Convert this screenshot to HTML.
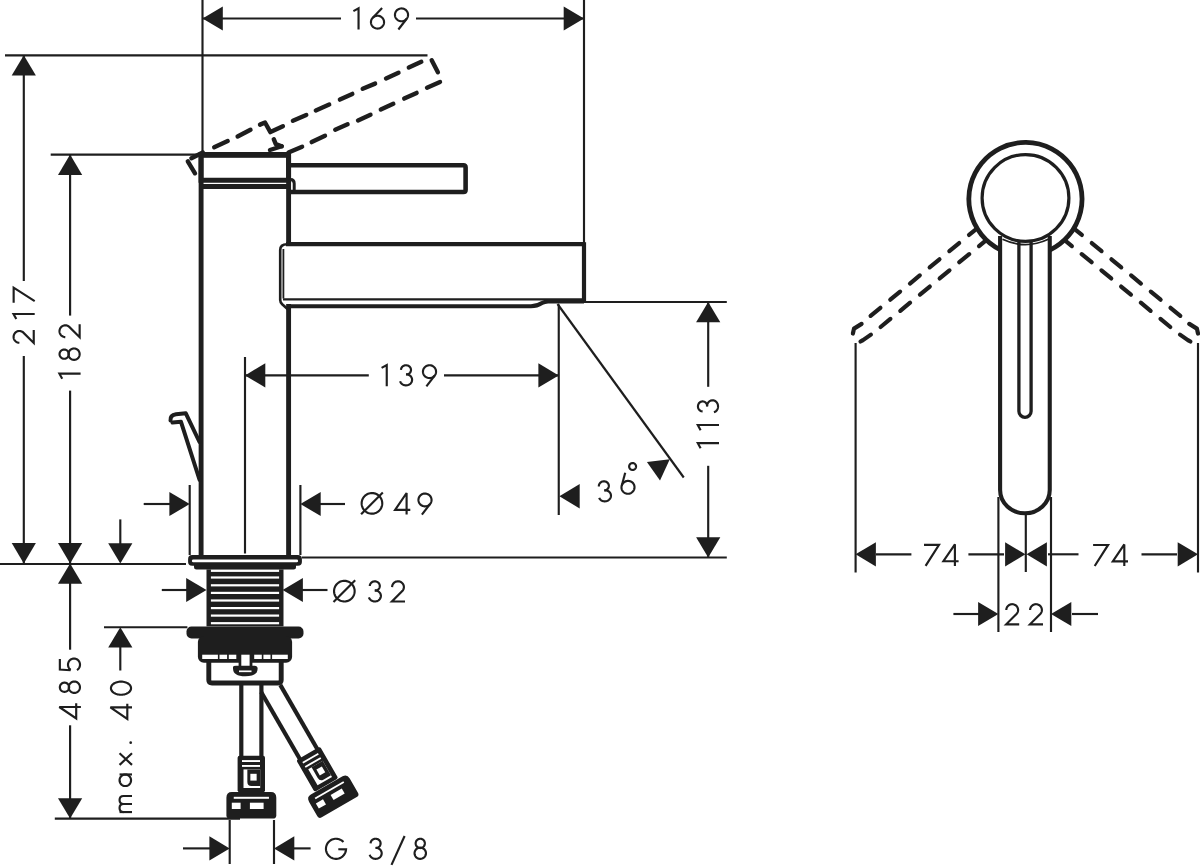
<!DOCTYPE html>
<html><head><meta charset="utf-8"><style>
html,body{margin:0;padding:0;background:#fff;overflow:hidden;}
svg{display:block;}
text{font-family:"Liberation Sans",sans-serif;fill:#1e1e1e;stroke:none;}
</style></head><body>
<svg width="1200" height="868" viewBox="0 0 1200 868" stroke="#1e1e1e" fill="none">
<line x1="202.5" y1="0" x2="202.5" y2="153" stroke-width="2.15" stroke-linecap="butt"/>
<line x1="584" y1="0" x2="584" y2="244" stroke-width="2.15" stroke-linecap="butt"/>
<line x1="202.5" y1="18.5" x2="341" y2="18.5" stroke-width="2.15" stroke-linecap="butt"/>
<line x1="416" y1="18.5" x2="584" y2="18.5" stroke-width="2.15" stroke-linecap="butt"/>
<polygon points="202.5,18.5 222.8,6.4 222.8,30.6" stroke="none" fill="#1e1e1e"/>
<polygon points="584.0,18.5 563.7,30.6 563.7,6.4" stroke="none" fill="#1e1e1e"/>
<line x1="5" y1="55.3" x2="427.5" y2="55.3" stroke-width="2.15" stroke-linecap="butt"/>
<line x1="23.8" y1="55.3" x2="23.8" y2="281" stroke-width="2.15" stroke-linecap="butt"/>
<line x1="23.8" y1="356" x2="23.8" y2="563.4" stroke-width="2.15" stroke-linecap="butt"/>
<polygon points="23.8,55.3 35.9,75.6 11.7,75.6" stroke="none" fill="#1e1e1e"/>
<polygon points="23.8,563.4 11.7,543.1 35.9,543.1" stroke="none" fill="#1e1e1e"/>
<line x1="50.7" y1="154.6" x2="201" y2="154.6" stroke-width="2.15" stroke-linecap="butt"/>
<line x1="70.1" y1="154.6" x2="70.1" y2="315.6" stroke-width="2.15" stroke-linecap="butt"/>
<line x1="70.1" y1="390.6" x2="70.1" y2="563.4" stroke-width="2.15" stroke-linecap="butt"/>
<polygon points="70.1,154.6 82.2,174.9 58.0,174.9" stroke="none" fill="#1e1e1e"/>
<polygon points="70.1,563.4 58.0,543.1 82.2,543.1" stroke="none" fill="#1e1e1e"/>
<line x1="0" y1="564.0" x2="186" y2="564.0" stroke-width="2.15" stroke-linecap="butt"/>
<line x1="70.1" y1="563.4" x2="70.1" y2="649.7" stroke-width="2.15" stroke-linecap="butt"/>
<line x1="70.1" y1="725.3" x2="70.1" y2="819" stroke-width="2.15" stroke-linecap="butt"/>
<polygon points="70.1,563.4 82.2,583.7 58.0,583.7" stroke="none" fill="#1e1e1e"/>
<polygon points="70.1,818.6 58.0,798.3 82.2,798.3" stroke="none" fill="#1e1e1e"/>
<line x1="54.8" y1="818.6" x2="240" y2="818.6" stroke-width="2.15" stroke-linecap="butt"/>
<line x1="120.3" y1="519.4" x2="120.3" y2="550" stroke-width="2.15" stroke-linecap="butt"/>
<polygon points="120.3,563.6 108.2,543.3 132.4,543.3" stroke="none" fill="#1e1e1e"/>
<line x1="104" y1="627.2" x2="187.4" y2="627.2" stroke-width="2.15" stroke-linecap="butt"/>
<polygon points="120.3,627.2 132.4,647.5 108.2,647.5" stroke="none" fill="#1e1e1e"/>
<line x1="120.3" y1="640" x2="120.3" y2="670.5" stroke-width="2.15" stroke-linecap="butt"/>
<line x1="245" y1="357" x2="245" y2="553.5" stroke-width="2.15" stroke-linecap="butt"/>
<line x1="245" y1="375.4" x2="368.8" y2="375.4" stroke-width="2.15" stroke-linecap="butt"/>
<line x1="444" y1="375.4" x2="558.7" y2="375.4" stroke-width="2.15" stroke-linecap="butt"/>
<polygon points="245.0,375.4 265.3,363.3 265.3,387.5" stroke="none" fill="#1e1e1e"/>
<polygon points="558.7,375.4 538.4,387.5 538.4,363.3" stroke="none" fill="#1e1e1e"/>
<line x1="558.75" y1="304.5" x2="558.75" y2="515" stroke-width="2.15" stroke-linecap="butt"/>
<line x1="557.5" y1="304" x2="683.75" y2="477.5" stroke-width="2.15" stroke-linecap="butt"/>
<polygon points="559.4,496.2 579.7,484.1 579.7,508.4" stroke="none" fill="#1e1e1e"/>
<polygon points="646.9,461.9 669.8,459.2 660,480.6" stroke="none" fill="#1e1e1e"/>
<line x1="584" y1="302.0" x2="726.8" y2="302.0" stroke-width="2.15" stroke-linecap="butt"/>
<line x1="301.8" y1="557.5" x2="726.8" y2="557.5" stroke-width="2.15" stroke-linecap="butt"/>
<line x1="708.2" y1="303" x2="708.2" y2="386.8" stroke-width="2.15" stroke-linecap="butt"/>
<line x1="708.2" y1="465.8" x2="708.2" y2="557.7" stroke-width="2.15" stroke-linecap="butt"/>
<polygon points="708.2,302.0 720.3,322.3 696.1,322.3" stroke="none" fill="#1e1e1e"/>
<polygon points="708.2,557.5 696.1,537.2 720.3,537.2" stroke="none" fill="#1e1e1e"/>
<line x1="189.7" y1="485" x2="189.7" y2="555" stroke-width="2.15" stroke-linecap="butt"/>
<line x1="300.4" y1="485" x2="300.4" y2="555" stroke-width="2.15" stroke-linecap="butt"/>
<line x1="143.7" y1="504" x2="175" y2="504" stroke-width="2.15" stroke-linecap="butt"/>
<polygon points="189.7,504.0 169.4,516.1 169.4,491.9" stroke="none" fill="#1e1e1e"/>
<line x1="315" y1="504" x2="345" y2="504" stroke-width="2.15" stroke-linecap="butt"/>
<polygon points="300.4,504.0 320.7,491.9 320.7,516.1" stroke="none" fill="#1e1e1e"/>
<line x1="161.8" y1="590" x2="190" y2="590" stroke-width="2.15" stroke-linecap="butt"/>
<polygon points="206.5,590.0 186.2,602.1 186.2,577.9" stroke="none" fill="#1e1e1e"/>
<line x1="300" y1="590" x2="327.5" y2="590" stroke-width="2.15" stroke-linecap="butt"/>
<polygon points="282.6,590.0 302.9,577.9 302.9,602.1" stroke="none" fill="#1e1e1e"/>
<line x1="229.7" y1="820" x2="229.7" y2="864" stroke-width="2.15" stroke-linecap="butt"/>
<line x1="274" y1="820" x2="274" y2="864" stroke-width="2.15" stroke-linecap="butt"/>
<line x1="183" y1="848.4" x2="212" y2="848.4" stroke-width="2.15" stroke-linecap="butt"/>
<polygon points="229.7,848.4 209.4,860.5 209.4,836.3" stroke="none" fill="#1e1e1e"/>
<line x1="290" y1="848.4" x2="310.6" y2="848.4" stroke-width="2.15" stroke-linecap="butt"/>
<polygon points="274.0,848.4 294.3,836.3 294.3,860.5" stroke="none" fill="#1e1e1e"/>
<g transform="translate(352.8 29.5)" stroke-width="2.15" stroke-miterlimit="3" fill="none"><path d="M0.60,-18.40 L5.75,-21.20 L5.75,0.00"/></g>
<g transform="translate(370 29.5)" stroke-width="2.15" stroke-miterlimit="3" fill="none"><path d="M14.05,-7.35 L14.02,-6.69 L13.91,-6.04 L13.74,-5.40 L13.50,-4.79 L13.20,-4.20 L12.84,-3.64 L12.42,-3.13 L11.95,-2.65 L11.43,-2.23 L10.87,-1.86 L10.28,-1.55 L9.65,-1.31 L9.00,-1.12 L8.34,-1.00 L7.67,-0.95 L6.99,-0.97 L6.33,-1.05 L5.67,-1.21 L5.03,-1.42 L4.42,-1.70 L3.84,-2.04 L3.30,-2.44 L2.81,-2.88 L2.36,-3.38 L1.97,-3.92 L1.64,-4.49 L1.37,-5.09 L1.17,-5.72 L1.03,-6.37 L0.96,-7.02 L0.96,-7.68 L1.03,-8.33 L1.17,-8.98 L1.37,-9.61 L1.64,-10.21 L1.97,-10.78 L2.36,-11.32 L2.81,-11.82 L3.30,-12.26 L3.84,-12.66 L4.42,-13.00 L5.03,-13.28 L5.67,-13.49 L6.33,-13.65 L6.99,-13.73 L7.67,-13.75 L8.34,-13.70 L9.00,-13.58 L9.65,-13.39 L10.28,-13.15 L10.87,-12.84 L11.43,-12.47 L11.95,-12.05 L12.42,-11.57 L12.84,-11.06 L13.20,-10.50 L13.50,-9.91 L13.74,-9.30 L13.91,-8.66 L14.02,-8.01 L14.05,-7.35 Z"/><path d="M12.10,-21.40 L2.82,-11.83"/></g>
<g transform="translate(394 29.5)" stroke-width="2.15" stroke-miterlimit="3" fill="none"><path d="M14.05,-14.65 L14.02,-13.99 L13.91,-13.34 L13.74,-12.70 L13.50,-12.09 L13.20,-11.50 L12.84,-10.94 L12.42,-10.43 L11.95,-9.95 L11.43,-9.53 L10.87,-9.16 L10.28,-8.85 L9.65,-8.61 L9.00,-8.42 L8.34,-8.30 L7.67,-8.25 L6.99,-8.27 L6.33,-8.35 L5.67,-8.51 L5.03,-8.72 L4.42,-9.00 L3.84,-9.34 L3.30,-9.74 L2.81,-10.18 L2.36,-10.68 L1.97,-11.22 L1.64,-11.79 L1.37,-12.39 L1.17,-13.02 L1.03,-13.67 L0.96,-14.32 L0.96,-14.98 L1.03,-15.63 L1.17,-16.28 L1.37,-16.91 L1.64,-17.51 L1.97,-18.08 L2.36,-18.62 L2.81,-19.12 L3.30,-19.56 L3.84,-19.96 L4.42,-20.30 L5.03,-20.58 L5.67,-20.79 L6.33,-20.95 L6.99,-21.03 L7.67,-21.05 L8.34,-21.00 L9.00,-20.88 L9.65,-20.69 L10.28,-20.45 L10.87,-20.14 L11.43,-19.77 L11.95,-19.35 L12.42,-18.87 L12.84,-18.36 L13.20,-17.80 L13.50,-17.21 L13.74,-16.60 L13.91,-15.96 L14.02,-15.31 L14.05,-14.65 Z"/><path d="M12.67,-10.72 L4.40,0.00"/></g>
<g transform="translate(381 386.3)" stroke-width="2.15" stroke-miterlimit="3" fill="none"><path d="M0.60,-18.40 L5.75,-21.20 L5.75,0.00"/></g>
<g transform="translate(399 386.3)" stroke-width="2.15" stroke-miterlimit="3" fill="none"><path d="M2.00,-16.40 L2.03,-16.88 L2.10,-17.35 L2.23,-17.81 L2.41,-18.25 L2.64,-18.68 L2.92,-19.08 L3.23,-19.46 L3.59,-19.80 L3.98,-20.11 L4.40,-20.37 L4.85,-20.60 L5.33,-20.78 L5.82,-20.92 L6.32,-21.01 L6.83,-21.05 L7.34,-21.04 L7.85,-20.98 L8.35,-20.88 L8.83,-20.73 L9.30,-20.53 L9.74,-20.29 L10.16,-20.01 L10.54,-19.69 L10.88,-19.33 L11.18,-18.95 L11.44,-18.54 L11.65,-18.11 L11.81,-17.65 L11.93,-17.19 L11.99,-16.72 L12.00,-16.24 L11.95,-15.77 L11.86,-15.30 L11.71,-14.84 L11.52,-14.40 L11.27,-13.98 L10.98,-13.59 L10.65,-13.23 L10.29,-12.90 L9.88,-12.60 L9.45,-12.35 L8.99,-12.13 L8.51,-11.97 L8.02,-11.85 L7.51,-11.77 L7.00,-11.75"/><path d="M7.00,-12.05 L7.63,-12.02 L8.25,-11.93 L8.86,-11.78 L9.45,-11.58 L10.02,-11.32 L10.55,-11.01 L11.04,-10.66 L11.49,-10.25 L11.90,-9.81 L12.25,-9.33 L12.54,-8.83 L12.77,-8.29 L12.95,-7.74 L13.05,-7.17 L13.10,-6.60 L13.08,-6.03 L12.99,-5.46 L12.84,-4.90 L12.63,-4.36 L12.36,-3.84 L12.03,-3.35 L11.64,-2.90 L11.21,-2.48 L10.73,-2.11 L10.21,-1.78 L9.66,-1.50 L9.07,-1.28 L8.47,-1.11 L7.85,-1.00 L7.22,-0.95 L6.59,-0.96 L5.97,-1.03 L5.35,-1.16 L4.75,-1.34 L4.18,-1.58 L3.63,-1.87 L3.13,-2.21 L2.66,-2.60 L2.24,-3.03 L1.87,-3.49 L1.56,-3.99 L1.30,-4.52 L1.11,-5.06"/></g>
<g transform="translate(422 386.3)" stroke-width="2.15" stroke-miterlimit="3" fill="none"><path d="M14.05,-14.65 L14.02,-13.99 L13.91,-13.34 L13.74,-12.70 L13.50,-12.09 L13.20,-11.50 L12.84,-10.94 L12.42,-10.43 L11.95,-9.95 L11.43,-9.53 L10.87,-9.16 L10.28,-8.85 L9.65,-8.61 L9.00,-8.42 L8.34,-8.30 L7.67,-8.25 L6.99,-8.27 L6.33,-8.35 L5.67,-8.51 L5.03,-8.72 L4.42,-9.00 L3.84,-9.34 L3.30,-9.74 L2.81,-10.18 L2.36,-10.68 L1.97,-11.22 L1.64,-11.79 L1.37,-12.39 L1.17,-13.02 L1.03,-13.67 L0.96,-14.32 L0.96,-14.98 L1.03,-15.63 L1.17,-16.28 L1.37,-16.91 L1.64,-17.51 L1.97,-18.08 L2.36,-18.62 L2.81,-19.12 L3.30,-19.56 L3.84,-19.96 L4.42,-20.30 L5.03,-20.58 L5.67,-20.79 L6.33,-20.95 L6.99,-21.03 L7.67,-21.05 L8.34,-21.00 L9.00,-20.88 L9.65,-20.69 L10.28,-20.45 L10.87,-20.14 L11.43,-19.77 L11.95,-19.35 L12.42,-18.87 L12.84,-18.36 L13.20,-17.80 L13.50,-17.21 L13.74,-16.60 L13.91,-15.96 L14.02,-15.31 L14.05,-14.65 Z"/><path d="M12.67,-10.72 L4.40,0.00"/></g>
<g transform="translate(360.5 514.6)" stroke-width="2.15" stroke-miterlimit="3" fill="none"><path d="M21.75,-11.25 L21.70,-10.19 L21.53,-9.14 L21.26,-8.12 L20.89,-7.13 L20.41,-6.18 L19.84,-5.28 L19.19,-4.45 L18.45,-3.69 L17.63,-3.01 L16.75,-2.42 L15.82,-1.92 L14.83,-1.52 L13.82,-1.23 L12.77,-1.04 L11.72,-0.95 L10.66,-0.98 L9.60,-1.12 L8.57,-1.36 L7.57,-1.71 L6.61,-2.16 L5.70,-2.70 L4.85,-3.34 L4.07,-4.06 L3.37,-4.86 L2.76,-5.72 L2.24,-6.64 L1.81,-7.62 L1.49,-8.63 L1.27,-9.66 L1.16,-10.72 L1.16,-11.78 L1.27,-12.84 L1.49,-13.87 L1.81,-14.88 L2.24,-15.86 L2.76,-16.78 L3.37,-17.64 L4.07,-18.44 L4.85,-19.16 L5.70,-19.80 L6.61,-20.34 L7.57,-20.79 L8.57,-21.14 L9.60,-21.38 L10.66,-21.52 L11.72,-21.55 L12.77,-21.46 L13.82,-21.27 L14.83,-20.98 L15.82,-20.58 L16.75,-20.08 L17.63,-19.49 L18.45,-18.81 L19.19,-18.05 L19.84,-17.22 L20.41,-16.32 L20.89,-15.37 L21.26,-14.38 L21.53,-13.36 L21.70,-12.31 L21.75,-11.25 Z"/><path d="M0.60,-0.30 L22.30,-22.20"/></g>
<g transform="translate(394.3 514.6)" stroke-width="2.15" stroke-miterlimit="3" fill="none"><path d="M16.00,-4.70 L0.80,-4.70 L12.30,-21.60 L12.30,0.00"/></g>
<g transform="translate(417.5 514.6)" stroke-width="2.15" stroke-miterlimit="3" fill="none"><path d="M14.05,-14.65 L14.02,-13.99 L13.91,-13.34 L13.74,-12.70 L13.50,-12.09 L13.20,-11.50 L12.84,-10.94 L12.42,-10.43 L11.95,-9.95 L11.43,-9.53 L10.87,-9.16 L10.28,-8.85 L9.65,-8.61 L9.00,-8.42 L8.34,-8.30 L7.67,-8.25 L6.99,-8.27 L6.33,-8.35 L5.67,-8.51 L5.03,-8.72 L4.42,-9.00 L3.84,-9.34 L3.30,-9.74 L2.81,-10.18 L2.36,-10.68 L1.97,-11.22 L1.64,-11.79 L1.37,-12.39 L1.17,-13.02 L1.03,-13.67 L0.96,-14.32 L0.96,-14.98 L1.03,-15.63 L1.17,-16.28 L1.37,-16.91 L1.64,-17.51 L1.97,-18.08 L2.36,-18.62 L2.81,-19.12 L3.30,-19.56 L3.84,-19.96 L4.42,-20.30 L5.03,-20.58 L5.67,-20.79 L6.33,-20.95 L6.99,-21.03 L7.67,-21.05 L8.34,-21.00 L9.00,-20.88 L9.65,-20.69 L10.28,-20.45 L10.87,-20.14 L11.43,-19.77 L11.95,-19.35 L12.42,-18.87 L12.84,-18.36 L13.20,-17.80 L13.50,-17.21 L13.74,-16.60 L13.91,-15.96 L14.02,-15.31 L14.05,-14.65 Z"/><path d="M12.67,-10.72 L4.40,0.00"/></g>
<g transform="translate(332.9 602.4)" stroke-width="2.15" stroke-miterlimit="3" fill="none"><path d="M21.75,-11.25 L21.70,-10.19 L21.53,-9.14 L21.26,-8.12 L20.89,-7.13 L20.41,-6.18 L19.84,-5.28 L19.19,-4.45 L18.45,-3.69 L17.63,-3.01 L16.75,-2.42 L15.82,-1.92 L14.83,-1.52 L13.82,-1.23 L12.77,-1.04 L11.72,-0.95 L10.66,-0.98 L9.60,-1.12 L8.57,-1.36 L7.57,-1.71 L6.61,-2.16 L5.70,-2.70 L4.85,-3.34 L4.07,-4.06 L3.37,-4.86 L2.76,-5.72 L2.24,-6.64 L1.81,-7.62 L1.49,-8.63 L1.27,-9.66 L1.16,-10.72 L1.16,-11.78 L1.27,-12.84 L1.49,-13.87 L1.81,-14.88 L2.24,-15.86 L2.76,-16.78 L3.37,-17.64 L4.07,-18.44 L4.85,-19.16 L5.70,-19.80 L6.61,-20.34 L7.57,-20.79 L8.57,-21.14 L9.60,-21.38 L10.66,-21.52 L11.72,-21.55 L12.77,-21.46 L13.82,-21.27 L14.83,-20.98 L15.82,-20.58 L16.75,-20.08 L17.63,-19.49 L18.45,-18.81 L19.19,-18.05 L19.84,-17.22 L20.41,-16.32 L20.89,-15.37 L21.26,-14.38 L21.53,-13.36 L21.70,-12.31 L21.75,-11.25 Z"/><path d="M0.60,-0.30 L22.30,-22.20"/></g>
<g transform="translate(367.8 602.4)" stroke-width="2.15" stroke-miterlimit="3" fill="none"><path d="M2.00,-16.40 L2.03,-16.88 L2.10,-17.35 L2.23,-17.81 L2.41,-18.25 L2.64,-18.68 L2.92,-19.08 L3.23,-19.46 L3.59,-19.80 L3.98,-20.11 L4.40,-20.37 L4.85,-20.60 L5.33,-20.78 L5.82,-20.92 L6.32,-21.01 L6.83,-21.05 L7.34,-21.04 L7.85,-20.98 L8.35,-20.88 L8.83,-20.73 L9.30,-20.53 L9.74,-20.29 L10.16,-20.01 L10.54,-19.69 L10.88,-19.33 L11.18,-18.95 L11.44,-18.54 L11.65,-18.11 L11.81,-17.65 L11.93,-17.19 L11.99,-16.72 L12.00,-16.24 L11.95,-15.77 L11.86,-15.30 L11.71,-14.84 L11.52,-14.40 L11.27,-13.98 L10.98,-13.59 L10.65,-13.23 L10.29,-12.90 L9.88,-12.60 L9.45,-12.35 L8.99,-12.13 L8.51,-11.97 L8.02,-11.85 L7.51,-11.77 L7.00,-11.75"/><path d="M7.00,-12.05 L7.63,-12.02 L8.25,-11.93 L8.86,-11.78 L9.45,-11.58 L10.02,-11.32 L10.55,-11.01 L11.04,-10.66 L11.49,-10.25 L11.90,-9.81 L12.25,-9.33 L12.54,-8.83 L12.77,-8.29 L12.95,-7.74 L13.05,-7.17 L13.10,-6.60 L13.08,-6.03 L12.99,-5.46 L12.84,-4.90 L12.63,-4.36 L12.36,-3.84 L12.03,-3.35 L11.64,-2.90 L11.21,-2.48 L10.73,-2.11 L10.21,-1.78 L9.66,-1.50 L9.07,-1.28 L8.47,-1.11 L7.85,-1.00 L7.22,-0.95 L6.59,-0.96 L5.97,-1.03 L5.35,-1.16 L4.75,-1.34 L4.18,-1.58 L3.63,-1.87 L3.13,-2.21 L2.66,-2.60 L2.24,-3.03 L1.87,-3.49 L1.56,-3.99 L1.30,-4.52 L1.11,-5.06"/></g>
<g transform="translate(391 602.4)" stroke-width="2.15" stroke-miterlimit="3" fill="none"><path d="M1.10,-15.30 L1.13,-15.90 L1.23,-16.50 L1.38,-17.08 L1.60,-17.64 L1.88,-18.18 L2.21,-18.68 L2.59,-19.15 L3.02,-19.58 L3.49,-19.96 L4.00,-20.30 L4.54,-20.57 L5.11,-20.80 L5.70,-20.96 L6.31,-21.06 L6.92,-21.10 L7.53,-21.08 L8.13,-20.99 L8.73,-20.85 L9.30,-20.64 L9.85,-20.38 L10.37,-20.06 L10.86,-19.69 L11.30,-19.27 L11.69,-18.81 L12.04,-18.32 L12.33,-17.79 L12.56,-17.23 L12.74,-16.66 L12.85,-16.06 L12.90,-15.46 L12.88,-14.86 L12.81,-14.27 L12.67,-13.68 L12.46,-13.11 L12.20,-12.57 L11.89,-12.05 L11.52,-11.57 L0.95,-0.95 L14.00,-0.95"/></g>
<g transform="translate(325 859.8)" stroke-width="2.15" stroke-miterlimit="3" fill="none"><path d="M18.47,-17.72 L17.73,-18.46 L16.92,-19.12 L16.05,-19.69 L15.12,-20.16 L14.15,-20.54 L13.15,-20.82 L12.12,-20.99 L11.08,-21.05 L10.04,-21.00 L9.01,-20.85 L8.00,-20.59 L7.02,-20.23 L6.09,-19.77 L5.21,-19.21 L4.39,-18.57 L3.64,-17.84 L2.97,-17.04 L2.39,-16.18 L1.90,-15.26 L1.51,-14.29 L1.22,-13.29 L1.03,-12.27 L0.95,-11.23 L0.98,-10.19 L1.12,-9.15 L1.37,-8.14 L1.71,-7.16 L2.16,-6.22 L2.70,-5.33 L3.34,-4.50 L4.05,-3.74 L4.84,-3.06 L5.69,-2.46 L6.61,-1.96 L7.57,-1.55 L8.56,-1.25 L9.58,-1.05 L10.62,-0.96 L11.66,-0.97 L12.70,-1.09 L13.72,-1.32 L14.70,-1.66 L15.65,-2.09 L16.55,-2.62 L17.39,-3.24 L18.16,-3.94 L18.85,-4.72 L19.46,-5.57 L19.97,-6.47 L20.39,-7.43 L20.71,-8.42 L20.93,-9.44 L21.04,-10.47 L13.30,-10.50"/></g>
<g transform="translate(368.6 859.8)" stroke-width="2.15" stroke-miterlimit="3" fill="none"><path d="M2.00,-16.40 L2.03,-16.88 L2.10,-17.35 L2.23,-17.81 L2.41,-18.25 L2.64,-18.68 L2.92,-19.08 L3.23,-19.46 L3.59,-19.80 L3.98,-20.11 L4.40,-20.37 L4.85,-20.60 L5.33,-20.78 L5.82,-20.92 L6.32,-21.01 L6.83,-21.05 L7.34,-21.04 L7.85,-20.98 L8.35,-20.88 L8.83,-20.73 L9.30,-20.53 L9.74,-20.29 L10.16,-20.01 L10.54,-19.69 L10.88,-19.33 L11.18,-18.95 L11.44,-18.54 L11.65,-18.11 L11.81,-17.65 L11.93,-17.19 L11.99,-16.72 L12.00,-16.24 L11.95,-15.77 L11.86,-15.30 L11.71,-14.84 L11.52,-14.40 L11.27,-13.98 L10.98,-13.59 L10.65,-13.23 L10.29,-12.90 L9.88,-12.60 L9.45,-12.35 L8.99,-12.13 L8.51,-11.97 L8.02,-11.85 L7.51,-11.77 L7.00,-11.75"/><path d="M7.00,-12.05 L7.63,-12.02 L8.25,-11.93 L8.86,-11.78 L9.45,-11.58 L10.02,-11.32 L10.55,-11.01 L11.04,-10.66 L11.49,-10.25 L11.90,-9.81 L12.25,-9.33 L12.54,-8.83 L12.77,-8.29 L12.95,-7.74 L13.05,-7.17 L13.10,-6.60 L13.08,-6.03 L12.99,-5.46 L12.84,-4.90 L12.63,-4.36 L12.36,-3.84 L12.03,-3.35 L11.64,-2.90 L11.21,-2.48 L10.73,-2.11 L10.21,-1.78 L9.66,-1.50 L9.07,-1.28 L8.47,-1.11 L7.85,-1.00 L7.22,-0.95 L6.59,-0.96 L5.97,-1.03 L5.35,-1.16 L4.75,-1.34 L4.18,-1.58 L3.63,-1.87 L3.13,-2.21 L2.66,-2.60 L2.24,-3.03 L1.87,-3.49 L1.56,-3.99 L1.30,-4.52 L1.11,-5.06"/></g>
<g transform="translate(390.6 859.8)" stroke-width="2.15" stroke-miterlimit="3" fill="none"><path d="M0.90,5.10 L14.00,-23.80"/></g>
<g transform="translate(413.6 859.8)" stroke-width="2.15" stroke-miterlimit="3" fill="none"><path d="M11.25,-16.40 L11.23,-15.92 L11.15,-15.45 L11.03,-14.99 L10.87,-14.54 L10.65,-14.11 L10.40,-13.71 L10.11,-13.33 L9.77,-12.99 L9.41,-12.68 L9.02,-12.41 L8.60,-12.19 L8.16,-12.01 L7.71,-11.87 L7.24,-11.79 L6.77,-11.75 L6.29,-11.76 L5.83,-11.83 L5.36,-11.94 L4.92,-12.09 L4.49,-12.30 L4.08,-12.54 L3.70,-12.83 L3.36,-13.15 L3.04,-13.51 L2.77,-13.90 L2.54,-14.32 L2.35,-14.76 L2.20,-15.22 L2.10,-15.68 L2.06,-16.16 L2.06,-16.64 L2.10,-17.12 L2.20,-17.58 L2.35,-18.04 L2.54,-18.48 L2.77,-18.90 L3.04,-19.29 L3.36,-19.65 L3.70,-19.97 L4.08,-20.26 L4.49,-20.50 L4.92,-20.71 L5.36,-20.86 L5.83,-20.97 L6.29,-21.04 L6.77,-21.05 L7.24,-21.01 L7.71,-20.93 L8.16,-20.79 L8.60,-20.61 L9.02,-20.39 L9.41,-20.12 L9.77,-19.81 L10.11,-19.47 L10.40,-19.09 L10.65,-18.69 L10.87,-18.26 L11.03,-17.81 L11.15,-17.35 L11.23,-16.88 L11.25,-16.40 Z"/><path d="M12.35,-6.55 L12.32,-5.97 L12.23,-5.40 L12.08,-4.85 L11.87,-4.31 L11.61,-3.79 L11.30,-3.31 L10.93,-2.85 L10.52,-2.44 L10.07,-2.07 L9.58,-1.75 L9.07,-1.48 L8.52,-1.26 L7.96,-1.10 L7.38,-1.00 L6.80,-0.95 L6.21,-0.97 L5.63,-1.04 L5.06,-1.17 L4.50,-1.36 L3.97,-1.61 L3.47,-1.90 L3.00,-2.25 L2.57,-2.64 L2.18,-3.07 L1.84,-3.54 L1.55,-4.05 L1.32,-4.57 L1.14,-5.12 L1.02,-5.69 L0.96,-6.26 L0.96,-6.84 L1.02,-7.41 L1.14,-7.98 L1.32,-8.53 L1.55,-9.05 L1.84,-9.56 L2.18,-10.03 L2.57,-10.46 L3.00,-10.85 L3.47,-11.20 L3.97,-11.49 L4.50,-11.74 L5.06,-11.93 L5.63,-12.06 L6.21,-12.13 L6.80,-12.15 L7.38,-12.10 L7.96,-12.00 L8.52,-11.84 L9.07,-11.62 L9.58,-11.35 L10.07,-11.03 L10.52,-10.66 L10.93,-10.25 L11.30,-9.79 L11.61,-9.31 L11.87,-8.79 L12.08,-8.25 L12.23,-7.70 L12.32,-7.13 L12.35,-6.55 Z"/></g>
<g transform="translate(924 565.9)" stroke-width="2.15" stroke-miterlimit="3" fill="none"><path d="M0.00,-21.05 L15.00,-21.05 L1.60,0.00"/></g>
<g transform="translate(942.6 565.9)" stroke-width="2.15" stroke-miterlimit="3" fill="none"><path d="M16.00,-4.70 L0.80,-4.70 L12.30,-21.60 L12.30,0.00"/></g>
<g transform="translate(1093.1 566)" stroke-width="2.15" stroke-miterlimit="3" fill="none"><path d="M0.00,-21.05 L15.00,-21.05 L1.60,0.00"/></g>
<g transform="translate(1112 566)" stroke-width="2.15" stroke-miterlimit="3" fill="none"><path d="M16.00,-4.70 L0.80,-4.70 L12.30,-21.60 L12.30,0.00"/></g>
<g transform="translate(1005.2 625.3)" stroke-width="2.15" stroke-miterlimit="3" fill="none"><path d="M1.10,-15.30 L1.13,-15.90 L1.23,-16.50 L1.38,-17.08 L1.60,-17.64 L1.88,-18.18 L2.21,-18.68 L2.59,-19.15 L3.02,-19.58 L3.49,-19.96 L4.00,-20.30 L4.54,-20.57 L5.11,-20.80 L5.70,-20.96 L6.31,-21.06 L6.92,-21.10 L7.53,-21.08 L8.13,-20.99 L8.73,-20.85 L9.30,-20.64 L9.85,-20.38 L10.37,-20.06 L10.86,-19.69 L11.30,-19.27 L11.69,-18.81 L12.04,-18.32 L12.33,-17.79 L12.56,-17.23 L12.74,-16.66 L12.85,-16.06 L12.90,-15.46 L12.88,-14.86 L12.81,-14.27 L12.67,-13.68 L12.46,-13.11 L12.20,-12.57 L11.89,-12.05 L11.52,-11.57 L0.95,-0.95 L14.00,-0.95"/></g>
<g transform="translate(1029 625.3)" stroke-width="2.15" stroke-miterlimit="3" fill="none"><path d="M1.10,-15.30 L1.13,-15.90 L1.23,-16.50 L1.38,-17.08 L1.60,-17.64 L1.88,-18.18 L2.21,-18.68 L2.59,-19.15 L3.02,-19.58 L3.49,-19.96 L4.00,-20.30 L4.54,-20.57 L5.11,-20.80 L5.70,-20.96 L6.31,-21.06 L6.92,-21.10 L7.53,-21.08 L8.13,-20.99 L8.73,-20.85 L9.30,-20.64 L9.85,-20.38 L10.37,-20.06 L10.86,-19.69 L11.30,-19.27 L11.69,-18.81 L12.04,-18.32 L12.33,-17.79 L12.56,-17.23 L12.74,-16.66 L12.85,-16.06 L12.90,-15.46 L12.88,-14.86 L12.81,-14.27 L12.67,-13.68 L12.46,-13.11 L12.20,-12.57 L11.89,-12.05 L11.52,-11.57 L0.95,-0.95 L14.00,-0.95"/></g>
<g transform="translate(34.7 343.9) rotate(-90)" stroke-width="2.15" stroke-miterlimit="3" fill="none"><path d="M1.10,-15.30 L1.13,-15.90 L1.23,-16.50 L1.38,-17.08 L1.60,-17.64 L1.88,-18.18 L2.21,-18.68 L2.59,-19.15 L3.02,-19.58 L3.49,-19.96 L4.00,-20.30 L4.54,-20.57 L5.11,-20.80 L5.70,-20.96 L6.31,-21.06 L6.92,-21.10 L7.53,-21.08 L8.13,-20.99 L8.73,-20.85 L9.30,-20.64 L9.85,-20.38 L10.37,-20.06 L10.86,-19.69 L11.30,-19.27 L11.69,-18.81 L12.04,-18.32 L12.33,-17.79 L12.56,-17.23 L12.74,-16.66 L12.85,-16.06 L12.90,-15.46 L12.88,-14.86 L12.81,-14.27 L12.67,-13.68 L12.46,-13.11 L12.20,-12.57 L11.89,-12.05 L11.52,-11.57 L0.95,-0.95 L14.00,-0.95"/></g>
<g transform="translate(34.7 319.7) rotate(-90)" stroke-width="2.15" stroke-miterlimit="3" fill="none"><path d="M0.60,-18.40 L5.75,-21.20 L5.75,0.00"/></g>
<g transform="translate(34.7 302.7) rotate(-90)" stroke-width="2.15" stroke-miterlimit="3" fill="none"><path d="M0.00,-21.05 L15.00,-21.05 L1.60,0.00"/></g>
<g transform="translate(80.6 379.4) rotate(-90)" stroke-width="2.15" stroke-miterlimit="3" fill="none"><path d="M0.60,-18.40 L5.75,-21.20 L5.75,0.00"/></g>
<g transform="translate(80.6 360.8) rotate(-90)" stroke-width="2.15" stroke-miterlimit="3" fill="none"><path d="M11.25,-16.40 L11.23,-15.92 L11.15,-15.45 L11.03,-14.99 L10.87,-14.54 L10.65,-14.11 L10.40,-13.71 L10.11,-13.33 L9.77,-12.99 L9.41,-12.68 L9.02,-12.41 L8.60,-12.19 L8.16,-12.01 L7.71,-11.87 L7.24,-11.79 L6.77,-11.75 L6.29,-11.76 L5.83,-11.83 L5.36,-11.94 L4.92,-12.09 L4.49,-12.30 L4.08,-12.54 L3.70,-12.83 L3.36,-13.15 L3.04,-13.51 L2.77,-13.90 L2.54,-14.32 L2.35,-14.76 L2.20,-15.22 L2.10,-15.68 L2.06,-16.16 L2.06,-16.64 L2.10,-17.12 L2.20,-17.58 L2.35,-18.04 L2.54,-18.48 L2.77,-18.90 L3.04,-19.29 L3.36,-19.65 L3.70,-19.97 L4.08,-20.26 L4.49,-20.50 L4.92,-20.71 L5.36,-20.86 L5.83,-20.97 L6.29,-21.04 L6.77,-21.05 L7.24,-21.01 L7.71,-20.93 L8.16,-20.79 L8.60,-20.61 L9.02,-20.39 L9.41,-20.12 L9.77,-19.81 L10.11,-19.47 L10.40,-19.09 L10.65,-18.69 L10.87,-18.26 L11.03,-17.81 L11.15,-17.35 L11.23,-16.88 L11.25,-16.40 Z"/><path d="M12.35,-6.55 L12.32,-5.97 L12.23,-5.40 L12.08,-4.85 L11.87,-4.31 L11.61,-3.79 L11.30,-3.31 L10.93,-2.85 L10.52,-2.44 L10.07,-2.07 L9.58,-1.75 L9.07,-1.48 L8.52,-1.26 L7.96,-1.10 L7.38,-1.00 L6.80,-0.95 L6.21,-0.97 L5.63,-1.04 L5.06,-1.17 L4.50,-1.36 L3.97,-1.61 L3.47,-1.90 L3.00,-2.25 L2.57,-2.64 L2.18,-3.07 L1.84,-3.54 L1.55,-4.05 L1.32,-4.57 L1.14,-5.12 L1.02,-5.69 L0.96,-6.26 L0.96,-6.84 L1.02,-7.41 L1.14,-7.98 L1.32,-8.53 L1.55,-9.05 L1.84,-9.56 L2.18,-10.03 L2.57,-10.46 L3.00,-10.85 L3.47,-11.20 L3.97,-11.49 L4.50,-11.74 L5.06,-11.93 L5.63,-12.06 L6.21,-12.13 L6.80,-12.15 L7.38,-12.10 L7.96,-12.00 L8.52,-11.84 L9.07,-11.62 L9.58,-11.35 L10.07,-11.03 L10.52,-10.66 L10.93,-10.25 L11.30,-9.79 L11.61,-9.31 L11.87,-8.79 L12.08,-8.25 L12.23,-7.70 L12.32,-7.13 L12.35,-6.55 Z"/></g>
<g transform="translate(80.6 338.2) rotate(-90)" stroke-width="2.15" stroke-miterlimit="3" fill="none"><path d="M1.10,-15.30 L1.13,-15.90 L1.23,-16.50 L1.38,-17.08 L1.60,-17.64 L1.88,-18.18 L2.21,-18.68 L2.59,-19.15 L3.02,-19.58 L3.49,-19.96 L4.00,-20.30 L4.54,-20.57 L5.11,-20.80 L5.70,-20.96 L6.31,-21.06 L6.92,-21.10 L7.53,-21.08 L8.13,-20.99 L8.73,-20.85 L9.30,-20.64 L9.85,-20.38 L10.37,-20.06 L10.86,-19.69 L11.30,-19.27 L11.69,-18.81 L12.04,-18.32 L12.33,-17.79 L12.56,-17.23 L12.74,-16.66 L12.85,-16.06 L12.90,-15.46 L12.88,-14.86 L12.81,-14.27 L12.67,-13.68 L12.46,-13.11 L12.20,-12.57 L11.89,-12.05 L11.52,-11.57 L0.95,-0.95 L14.00,-0.95"/></g>
<g transform="translate(80.9 719.3) rotate(-90)" stroke-width="2.15" stroke-miterlimit="3" fill="none"><path d="M16.00,-4.70 L0.80,-4.70 L12.30,-21.60 L12.30,0.00"/></g>
<g transform="translate(80.9 693.9) rotate(-90)" stroke-width="2.15" stroke-miterlimit="3" fill="none"><path d="M11.25,-16.40 L11.23,-15.92 L11.15,-15.45 L11.03,-14.99 L10.87,-14.54 L10.65,-14.11 L10.40,-13.71 L10.11,-13.33 L9.77,-12.99 L9.41,-12.68 L9.02,-12.41 L8.60,-12.19 L8.16,-12.01 L7.71,-11.87 L7.24,-11.79 L6.77,-11.75 L6.29,-11.76 L5.83,-11.83 L5.36,-11.94 L4.92,-12.09 L4.49,-12.30 L4.08,-12.54 L3.70,-12.83 L3.36,-13.15 L3.04,-13.51 L2.77,-13.90 L2.54,-14.32 L2.35,-14.76 L2.20,-15.22 L2.10,-15.68 L2.06,-16.16 L2.06,-16.64 L2.10,-17.12 L2.20,-17.58 L2.35,-18.04 L2.54,-18.48 L2.77,-18.90 L3.04,-19.29 L3.36,-19.65 L3.70,-19.97 L4.08,-20.26 L4.49,-20.50 L4.92,-20.71 L5.36,-20.86 L5.83,-20.97 L6.29,-21.04 L6.77,-21.05 L7.24,-21.01 L7.71,-20.93 L8.16,-20.79 L8.60,-20.61 L9.02,-20.39 L9.41,-20.12 L9.77,-19.81 L10.11,-19.47 L10.40,-19.09 L10.65,-18.69 L10.87,-18.26 L11.03,-17.81 L11.15,-17.35 L11.23,-16.88 L11.25,-16.40 Z"/><path d="M12.35,-6.55 L12.32,-5.97 L12.23,-5.40 L12.08,-4.85 L11.87,-4.31 L11.61,-3.79 L11.30,-3.31 L10.93,-2.85 L10.52,-2.44 L10.07,-2.07 L9.58,-1.75 L9.07,-1.48 L8.52,-1.26 L7.96,-1.10 L7.38,-1.00 L6.80,-0.95 L6.21,-0.97 L5.63,-1.04 L5.06,-1.17 L4.50,-1.36 L3.97,-1.61 L3.47,-1.90 L3.00,-2.25 L2.57,-2.64 L2.18,-3.07 L1.84,-3.54 L1.55,-4.05 L1.32,-4.57 L1.14,-5.12 L1.02,-5.69 L0.96,-6.26 L0.96,-6.84 L1.02,-7.41 L1.14,-7.98 L1.32,-8.53 L1.55,-9.05 L1.84,-9.56 L2.18,-10.03 L2.57,-10.46 L3.00,-10.85 L3.47,-11.20 L3.97,-11.49 L4.50,-11.74 L5.06,-11.93 L5.63,-12.06 L6.21,-12.13 L6.80,-12.15 L7.38,-12.10 L7.96,-12.00 L8.52,-11.84 L9.07,-11.62 L9.58,-11.35 L10.07,-11.03 L10.52,-10.66 L10.93,-10.25 L11.30,-9.79 L11.61,-9.31 L11.87,-8.79 L12.08,-8.25 L12.23,-7.70 L12.32,-7.13 L12.35,-6.55 Z"/></g>
<g transform="translate(80.9 671.8) rotate(-90)" stroke-width="2.15" stroke-miterlimit="3" fill="none"><path d="M12.80,-21.05 L2.20,-21.05 L1.60,-11.20 L2.53,-10.91 L2.98,-11.35 L3.46,-11.74 L3.99,-12.08 L4.55,-12.36 L5.14,-12.59 L5.74,-12.75 L6.37,-12.86 L6.99,-12.90 L7.63,-12.88 L8.25,-12.79 L8.86,-12.65 L9.46,-12.44 L10.03,-12.18 L10.56,-11.86 L11.07,-11.49 L11.53,-11.06 L11.94,-10.60 L12.30,-10.10 L12.61,-9.56 L12.86,-9.00 L13.05,-8.41 L13.18,-7.81 L13.24,-7.19 L13.24,-6.58 L13.18,-5.97 L13.05,-5.37 L12.85,-4.78 L12.60,-4.22 L12.29,-3.68 L11.92,-3.18 L11.51,-2.72 L11.05,-2.30 L10.54,-1.93 L10.00,-1.61 L9.43,-1.35 L8.84,-1.14 L8.22,-1.00 L7.60,-0.92 L6.97,-0.90 L6.34,-0.95 L5.72,-1.05 L5.11,-1.22 L4.53,-1.45 L3.97,-1.74 L3.44,-2.08 L2.96,-2.47 L2.51,-2.90 L2.12,-3.38 L1.77,-3.90"/></g>
<g transform="translate(719 448.9) rotate(-90)" stroke-width="2.15" stroke-miterlimit="3" fill="none"><path d="M0.60,-18.40 L5.75,-21.20 L5.75,0.00"/></g>
<g transform="translate(719 430.8) rotate(-90)" stroke-width="2.15" stroke-miterlimit="3" fill="none"><path d="M0.60,-18.40 L5.75,-21.20 L5.75,0.00"/></g>
<g transform="translate(719 413.4) rotate(-90)" stroke-width="2.15" stroke-miterlimit="3" fill="none"><path d="M2.00,-16.40 L2.03,-16.88 L2.10,-17.35 L2.23,-17.81 L2.41,-18.25 L2.64,-18.68 L2.92,-19.08 L3.23,-19.46 L3.59,-19.80 L3.98,-20.11 L4.40,-20.37 L4.85,-20.60 L5.33,-20.78 L5.82,-20.92 L6.32,-21.01 L6.83,-21.05 L7.34,-21.04 L7.85,-20.98 L8.35,-20.88 L8.83,-20.73 L9.30,-20.53 L9.74,-20.29 L10.16,-20.01 L10.54,-19.69 L10.88,-19.33 L11.18,-18.95 L11.44,-18.54 L11.65,-18.11 L11.81,-17.65 L11.93,-17.19 L11.99,-16.72 L12.00,-16.24 L11.95,-15.77 L11.86,-15.30 L11.71,-14.84 L11.52,-14.40 L11.27,-13.98 L10.98,-13.59 L10.65,-13.23 L10.29,-12.90 L9.88,-12.60 L9.45,-12.35 L8.99,-12.13 L8.51,-11.97 L8.02,-11.85 L7.51,-11.77 L7.00,-11.75"/><path d="M7.00,-12.05 L7.63,-12.02 L8.25,-11.93 L8.86,-11.78 L9.45,-11.58 L10.02,-11.32 L10.55,-11.01 L11.04,-10.66 L11.49,-10.25 L11.90,-9.81 L12.25,-9.33 L12.54,-8.83 L12.77,-8.29 L12.95,-7.74 L13.05,-7.17 L13.10,-6.60 L13.08,-6.03 L12.99,-5.46 L12.84,-4.90 L12.63,-4.36 L12.36,-3.84 L12.03,-3.35 L11.64,-2.90 L11.21,-2.48 L10.73,-2.11 L10.21,-1.78 L9.66,-1.50 L9.07,-1.28 L8.47,-1.11 L7.85,-1.00 L7.22,-0.95 L6.59,-0.96 L5.97,-1.03 L5.35,-1.16 L4.75,-1.34 L4.18,-1.58 L3.63,-1.87 L3.13,-2.21 L2.66,-2.60 L2.24,-3.03 L1.87,-3.49 L1.56,-3.99 L1.30,-4.52 L1.11,-5.06"/></g>
<g transform="translate(132 813) rotate(-90)" stroke-width="2.15" stroke-miterlimit="3" fill="none"><path d="M0.95,0 L0.95,-12.45"/><path d="M0.95,-8.5 C0.95,-11 2.6,-12.45 5,-12.45 C7.4,-12.45 9,-11 9,-8.5 L9,0"/><path d="M9,-8.5 C9,-11 10.6,-12.45 13,-12.45 C15.4,-12.45 17.05,-11 17.05,-8.5 L17.05,0"/></g>
<g transform="translate(132 787) rotate(-90)" stroke-width="2.15" stroke-miterlimit="3" fill="none"><path d="M12.45,-6.70 L12.42,-6.11 L12.33,-5.52 L12.18,-4.95 L11.97,-4.40 L11.70,-3.87 L11.39,-3.37 L11.02,-2.90 L10.61,-2.48 L10.15,-2.10 L9.66,-1.77 L9.14,-1.49 L8.59,-1.27 L8.02,-1.10 L7.44,-1.00 L6.85,-0.95 L6.26,-0.97 L5.67,-1.04 L5.09,-1.18 L4.53,-1.37 L4.00,-1.62 L3.49,-1.93 L3.02,-2.28 L2.58,-2.69 L2.19,-3.13 L1.85,-3.61 L1.56,-4.13 L1.32,-4.67 L1.14,-5.24 L1.02,-5.82 L0.96,-6.40 L0.96,-7.00 L1.02,-7.58 L1.14,-8.16 L1.32,-8.73 L1.56,-9.27 L1.85,-9.79 L2.19,-10.27 L2.58,-10.71 L3.02,-11.12 L3.49,-11.47 L4.00,-11.78 L4.53,-12.03 L5.09,-12.22 L5.67,-12.36 L6.26,-12.43 L6.85,-12.45 L7.44,-12.40 L8.02,-12.30 L8.59,-12.13 L9.14,-11.91 L9.66,-11.63 L10.15,-11.30 L10.61,-10.92 L11.02,-10.50 L11.39,-10.03 L11.70,-9.53 L11.97,-9.00 L12.18,-8.45 L12.33,-7.88 L12.42,-7.29 L12.45,-6.70 Z"/><path d="M12.55,-12.45 L12.55,0"/></g>
<g transform="translate(132 765.8) rotate(-90)" stroke-width="2.15" stroke-miterlimit="3" fill="none"><path d="M0.9,-12.45 L12.6,0 M12.6,-12.45 L0.9,0"/></g>
<g transform="translate(132 744) rotate(-90)"><circle cx="1.3" cy="-1.3" r="1.35" stroke="none" fill="#1e1e1e"/></g>
<g transform="translate(132 719.7) rotate(-90)" stroke-width="2.15" stroke-miterlimit="3" fill="none"><path d="M16.00,-4.70 L0.80,-4.70 L12.30,-21.60 L12.30,0.00"/></g>
<g transform="translate(132 695.7) rotate(-90)" stroke-width="2.15" stroke-miterlimit="3" fill="none"><path d="M14.05,-11.00 L14.02,-9.97 L13.91,-8.94 L13.74,-7.94 L13.50,-6.98 L13.20,-6.05 L12.84,-5.18 L12.42,-4.37 L11.95,-3.62 L11.43,-2.96 L10.87,-2.38 L10.28,-1.90 L9.65,-1.51 L9.00,-1.22 L8.34,-1.03 L7.67,-0.95 L6.99,-0.98 L6.33,-1.11 L5.67,-1.35 L5.03,-1.69 L4.42,-2.13 L3.84,-2.66 L3.30,-3.28 L2.81,-3.99 L2.36,-4.76 L1.97,-5.61 L1.64,-6.51 L1.37,-7.45 L1.17,-8.44 L1.03,-9.45 L0.96,-10.48 L0.96,-11.52 L1.03,-12.55 L1.17,-13.56 L1.37,-14.55 L1.64,-15.49 L1.97,-16.39 L2.36,-17.24 L2.81,-18.01 L3.30,-18.72 L3.84,-19.34 L4.42,-19.87 L5.03,-20.31 L5.67,-20.65 L6.33,-20.89 L6.99,-21.02 L7.67,-21.05 L8.34,-20.97 L9.00,-20.78 L9.65,-20.49 L10.28,-20.10 L10.87,-19.62 L11.43,-19.04 L11.95,-18.38 L12.42,-17.63 L12.84,-16.82 L13.20,-15.95 L13.50,-15.02 L13.74,-14.06 L13.91,-13.06 L14.02,-12.03 L14.05,-11.00 Z"/></g>
<g transform="translate(598.6 503.0) rotate(-6)" stroke-width="2.15" stroke-miterlimit="3" fill="none"><path d="M2.00,-16.40 L2.03,-16.88 L2.10,-17.35 L2.23,-17.81 L2.41,-18.25 L2.64,-18.68 L2.92,-19.08 L3.23,-19.46 L3.59,-19.80 L3.98,-20.11 L4.40,-20.37 L4.85,-20.60 L5.33,-20.78 L5.82,-20.92 L6.32,-21.01 L6.83,-21.05 L7.34,-21.04 L7.85,-20.98 L8.35,-20.88 L8.83,-20.73 L9.30,-20.53 L9.74,-20.29 L10.16,-20.01 L10.54,-19.69 L10.88,-19.33 L11.18,-18.95 L11.44,-18.54 L11.65,-18.11 L11.81,-17.65 L11.93,-17.19 L11.99,-16.72 L12.00,-16.24 L11.95,-15.77 L11.86,-15.30 L11.71,-14.84 L11.52,-14.40 L11.27,-13.98 L10.98,-13.59 L10.65,-13.23 L10.29,-12.90 L9.88,-12.60 L9.45,-12.35 L8.99,-12.13 L8.51,-11.97 L8.02,-11.85 L7.51,-11.77 L7.00,-11.75"/><path d="M7.00,-12.05 L7.63,-12.02 L8.25,-11.93 L8.86,-11.78 L9.45,-11.58 L10.02,-11.32 L10.55,-11.01 L11.04,-10.66 L11.49,-10.25 L11.90,-9.81 L12.25,-9.33 L12.54,-8.83 L12.77,-8.29 L12.95,-7.74 L13.05,-7.17 L13.10,-6.60 L13.08,-6.03 L12.99,-5.46 L12.84,-4.90 L12.63,-4.36 L12.36,-3.84 L12.03,-3.35 L11.64,-2.90 L11.21,-2.48 L10.73,-2.11 L10.21,-1.78 L9.66,-1.50 L9.07,-1.28 L8.47,-1.11 L7.85,-1.00 L7.22,-0.95 L6.59,-0.96 L5.97,-1.03 L5.35,-1.16 L4.75,-1.34 L4.18,-1.58 L3.63,-1.87 L3.13,-2.21 L2.66,-2.60 L2.24,-3.03 L1.87,-3.49 L1.56,-3.99 L1.30,-4.52 L1.11,-5.06"/></g>
<g transform="translate(625 497.4) rotate(-29)" stroke-width="2.15" stroke-miterlimit="3" fill="none"><path d="M14.05,-7.35 L14.02,-6.69 L13.91,-6.04 L13.74,-5.40 L13.50,-4.79 L13.20,-4.20 L12.84,-3.64 L12.42,-3.13 L11.95,-2.65 L11.43,-2.23 L10.87,-1.86 L10.28,-1.55 L9.65,-1.31 L9.00,-1.12 L8.34,-1.00 L7.67,-0.95 L6.99,-0.97 L6.33,-1.05 L5.67,-1.21 L5.03,-1.42 L4.42,-1.70 L3.84,-2.04 L3.30,-2.44 L2.81,-2.88 L2.36,-3.38 L1.97,-3.92 L1.64,-4.49 L1.37,-5.09 L1.17,-5.72 L1.03,-6.37 L0.96,-7.02 L0.96,-7.68 L1.03,-8.33 L1.17,-8.98 L1.37,-9.61 L1.64,-10.21 L1.97,-10.78 L2.36,-11.32 L2.81,-11.82 L3.30,-12.26 L3.84,-12.66 L4.42,-13.00 L5.03,-13.28 L5.67,-13.49 L6.33,-13.65 L6.99,-13.73 L7.67,-13.75 L8.34,-13.70 L9.00,-13.58 L9.65,-13.39 L10.28,-13.15 L10.87,-12.84 L11.43,-12.47 L11.95,-12.05 L12.42,-11.57 L12.84,-11.06 L13.20,-10.50 L13.50,-9.91 L13.74,-9.30 L13.91,-8.66 L14.02,-8.01 L14.05,-7.35 Z"/><path d="M12.10,-21.40 L2.82,-11.83"/></g>
<g transform="translate(628.2 470.9)" stroke-width="2.15" stroke-miterlimit="3" fill="none"><path d="M7.85,-4.40 L7.83,-4.05 L7.78,-3.69 L7.69,-3.35 L7.56,-3.02 L7.40,-2.70 L7.21,-2.40 L6.99,-2.12 L6.74,-1.87 L6.47,-1.64 L6.18,-1.44 L5.86,-1.28 L5.53,-1.14 L5.19,-1.04 L4.84,-0.98 L4.49,-0.95 L4.13,-0.96 L3.78,-1.01 L3.44,-1.09 L3.10,-1.20 L2.78,-1.35 L2.47,-1.54 L2.19,-1.75 L1.93,-1.99 L1.69,-2.26 L1.49,-2.55 L1.31,-2.86 L1.17,-3.18 L1.06,-3.52 L0.99,-3.87 L0.95,-4.22 L0.95,-4.58 L0.99,-4.93 L1.06,-5.28 L1.17,-5.62 L1.31,-5.94 L1.49,-6.25 L1.69,-6.54 L1.93,-6.81 L2.19,-7.05 L2.47,-7.26 L2.78,-7.45 L3.10,-7.60 L3.44,-7.71 L3.78,-7.79 L4.13,-7.84 L4.49,-7.85 L4.84,-7.82 L5.19,-7.76 L5.53,-7.66 L5.86,-7.52 L6.18,-7.36 L6.47,-7.16 L6.74,-6.93 L6.99,-6.68 L7.21,-6.40 L7.40,-6.10 L7.56,-5.78 L7.69,-5.45 L7.78,-5.11 L7.83,-4.75 L7.85,-4.40 Z"/></g>
<line x1="201.1" y1="155" x2="201.1" y2="556" stroke-width="4.9" stroke-linecap="butt"/>
<line x1="288.6" y1="155" x2="288.6" y2="244" stroke-width="4.9" stroke-linecap="butt"/>
<line x1="288.6" y1="304" x2="288.6" y2="556" stroke-width="4.9" stroke-linecap="butt"/>
<path d="M201,154.8 L288.6,154.8 L288.6,180.3 L201,180.3 Z" stroke-width="4.9" fill="none" />
<line x1="199" y1="154.8" x2="290" y2="154.8" stroke-width="5.8" stroke-linecap="butt"/>
<line x1="201" y1="186.6" x2="288.6" y2="186.6" stroke-width="5.0" stroke-linecap="butt"/>
<path d="M288.6,165.3 L463.4,165.3 Q465.6,165.3 465.6,167.5 L465.6,189.8 Q465.6,192 463.4,192 L290,192" stroke-width="4.6" fill="none" />
<path d="M584,244.2 L286,244.2" stroke-width="4.2" fill="none" />
<path d="M287,244.2 Q280.2,244.2 280.2,250 L280.2,300 Q280.2,302.3 282.2,304.2 L289.2,310.5" stroke-width="2.6" fill="none" />
<line x1="283.4" y1="249" x2="283.4" y2="298.5" stroke-width="1.8" stroke-linecap="butt"/>
<line x1="283" y1="299.4" x2="584" y2="299.4" stroke-width="2.3" stroke-linecap="butt"/>
<line x1="584" y1="242.2" x2="584" y2="301.2" stroke-width="4.2" stroke-linecap="butt"/>
<path d="M289,306.2 L531,306.2 Q537,306.2 542,303 Q544.5,301.6 548,301.4 L584,301.4" stroke-width="4.0" fill="none" />
<path d="M288.6,179.5 L290.5,179.5 Q294.2,179.5 294.2,183.5 L294.2,192" stroke-width="3.0" fill="none" />
<rect x="188.1" y="555.1" width="113.8" height="10.6" rx="4" fill="#1e1e1e" stroke="none" />
<rect x="194" y="562" width="102" height="7.4" rx="2.5" fill="#1e1e1e" stroke="none" />
<rect x="191.9" y="559.4" width="106.2" height="2.9" rx="1.4" fill="#fff" stroke="none" />
<path d="M170.5,420.5 Q170,415.2 176,414.3 L185.8,413.3 L199.5,442" stroke-width="4.0" fill="none" stroke-linejoin="round" stroke-linecap="round"/>
<path d="M172.5,422.5 L181,421.8 L199.6,480" stroke-width="4.0" fill="none" stroke-linejoin="round" stroke-linecap="round"/>
<rect x="206.5" y="569.4" width="77" height="57" rx="0" fill="#1e1e1e" stroke="none" />
<rect x="210.9" y="569.6999999999999" width="68.2" height="2.2" rx="0" fill="#fff" stroke="none" />
<rect x="210.9" y="576.4" width="68.2" height="2.2" rx="0" fill="#fff" stroke="none" />
<rect x="210.9" y="584.1999999999999" width="68.2" height="2.2" rx="0" fill="#fff" stroke="none" />
<rect x="210.9" y="591.8" width="68.2" height="2.2" rx="0" fill="#fff" stroke="none" />
<rect x="210.9" y="599.4" width="68.2" height="2.2" rx="0" fill="#fff" stroke="none" />
<rect x="210.9" y="607.0" width="68.2" height="2.2" rx="0" fill="#fff" stroke="none" />
<rect x="210.9" y="614.5" width="68.2" height="2.2" rx="0" fill="#fff" stroke="none" />
<rect x="210.9" y="622.1" width="68.2" height="2.2" rx="0" fill="#fff" stroke="none" />
<rect x="186.5" y="626.5" width="117" height="12" rx="5" fill="#1e1e1e" stroke="none" />
<rect x="197.9" y="636" width="94.2" height="26.8" rx="6" fill="#1e1e1e" stroke="none" />
<rect x="202.2" y="654.7" width="15.700000000000017" height="4.3" rx="0" fill="#fff" stroke="none" />
<rect x="219.5" y="654.7" width="7.599999999999994" height="4.3" rx="0" fill="#fff" stroke="none" />
<rect x="228.8" y="654.7" width="7.5" height="4.3" rx="0" fill="#fff" stroke="none" />
<rect x="254.2" y="654.7" width="7.600000000000023" height="4.3" rx="0" fill="#fff" stroke="none" />
<rect x="263.4" y="654.7" width="7.100000000000023" height="4.3" rx="0" fill="#fff" stroke="none" />
<rect x="272.1" y="654.7" width="15.699999999999989" height="4.3" rx="0" fill="#fff" stroke="none" />
<rect x="238.6" y="660" width="13.8" height="7" rx="0" fill="#1e1e1e" stroke="none" />
<rect x="241.3" y="654.7" width="8.3" height="11.3" rx="0" fill="#fff" stroke="none" />
<path d="M208.8,661 L208.8,680 Q208.8,683 212,683 L278,683 Q281.2,683 281.2,680 L281.2,661" stroke-width="4.9" fill="none" />
<path d="M233,667 Q233,665.8 236,665.8 L254.5,665.8 Q257.6,665.8 257.6,668.5 Q257.6,676.3 245.3,676.3 Q233,676.3 233,668.5 Z" fill="#1e1e1e" stroke="none"/>
<line x1="239" y1="671.3" x2="251.5" y2="671.3" stroke-width="1.7" stroke-linecap="butt" stroke="#fff"/>
<line x1="241.3" y1="684" x2="241.3" y2="756" stroke-width="4.2" stroke-linecap="butt"/>
<line x1="261.4" y1="684" x2="261.4" y2="756" stroke-width="4.2" stroke-linecap="butt"/>
<g transform="translate(251.35 755.7)"><rect x="-13.75" y="0" width="27.4" height="36.5" rx="2" fill="#1e1e1e" stroke="none"/><rect x="-9.35" y="4.4" width="18" height="1.9" fill="#fff" stroke="none"/><rect x="-9.35" y="9.3" width="18" height="1.9" fill="#fff" stroke="none"/><rect x="-7.85" y="13.7" width="16.7" height="18.6" fill="#fff" stroke="none"/><path d="M-4,13.7 L8.85,13.7 L8.85,30.3 L0,30.3 Q-4,30.3 -4,26 Z" fill="#1e1e1e" stroke="none"/><rect x="-1" y="18.1" width="6.3" height="6.8" fill="#fff" stroke="none"/><path d="M-19.5,36.2 L19.5,36.2 Q24.95,36.2 24.95,42 L24.95,59.5 Q24.95,62.9 21.5,62.9 L-21.5,62.9 Q-24.95,62.9 -24.95,59.5 L-24.95,42 Q-24.95,36.2 -19.5,36.2 Z" fill="#1e1e1e" stroke="none"/><rect x="-17.6" y="41.1" width="35.2" height="2" fill="#fff" stroke="none"/><rect x="-19.55" y="47" width="8.8" height="6.3" fill="#fff" stroke="none"/><rect x="-1.45" y="47" width="13.7" height="6.3" fill="#fff" stroke="none"/></g>
<g transform="translate(308.2 753.4) rotate(-30)"><line x1="-10.05" y1="-76.7" x2="-10.05" y2="1" stroke-width="4.2"/><line x1="10.05" y1="-73.3" x2="10.05" y2="1" stroke-width="4.2"/><rect x="-13.75" y="0" width="27.4" height="36.5" rx="2" fill="#1e1e1e" stroke="none"/><rect x="-9.35" y="4.4" width="18" height="1.9" fill="#fff" stroke="none"/><rect x="-9.35" y="9.3" width="18" height="1.9" fill="#fff" stroke="none"/><rect x="-7.85" y="13.7" width="16.7" height="18.6" fill="#fff" stroke="none"/><path d="M-4,13.7 L8.85,13.7 L8.85,30.3 L0,30.3 Q-4,30.3 -4,26 Z" fill="#1e1e1e" stroke="none"/><rect x="-1" y="18.1" width="6.3" height="6.8" fill="#fff" stroke="none"/><g transform="translate(0 49.5) scale(0.94) translate(0 -49.5)"><path d="M-19.5,36.2 L19.5,36.2 Q24.95,36.2 24.95,42 L24.95,59.5 Q24.95,62.9 21.5,62.9 L-21.5,62.9 Q-24.95,62.9 -24.95,59.5 L-24.95,42 Q-24.95,36.2 -19.5,36.2 Z" fill="#1e1e1e" stroke="none"/><rect x="-17.6" y="41.1" width="35.2" height="2" fill="#fff" stroke="none"/><rect x="-19.55" y="47" width="8.8" height="6.3" fill="#fff" stroke="none"/><rect x="-1.45" y="47" width="13.7" height="6.3" fill="#fff" stroke="none"/></g></g>
<path d="M191.4,158.2 L202.8,152.5" fill="none" stroke-width="4.4" stroke-linecap="round" stroke-linejoin="round"/>
<path d="M214.2,147.3 L227.7,141.1" fill="none" stroke-width="4.4" stroke-linecap="round" stroke-linejoin="round"/>
<path d="M237.6,136.5 L250.5,129.7" fill="none" stroke-width="4.4" stroke-linecap="round" stroke-linejoin="round"/>
<path d="M260,124.6 L265,122.5 L270.4,132.1 L282.9,126.25" fill="none" stroke-width="4.4" stroke-linecap="round" stroke-linejoin="round"/>
<path d="M292.9,120.8 L306.25,115" fill="none" stroke-width="4.4" stroke-linecap="round" stroke-linejoin="round"/>
<path d="M315.8,110.4 L329.2,104.6" fill="none" stroke-width="4.4" stroke-linecap="round" stroke-linejoin="round"/>
<path d="M339.9,99.6 L352.3,93.9" fill="none" stroke-width="4.4" stroke-linecap="round" stroke-linejoin="round"/>
<path d="M362.7,88.8 L375.1,83.6" fill="none" stroke-width="4.4" stroke-linecap="round" stroke-linejoin="round"/>
<path d="M386,78.4 L398.5,72.7" fill="none" stroke-width="4.4" stroke-linecap="round" stroke-linejoin="round"/>
<path d="M408.8,67.5 L421.3,61.8" fill="none" stroke-width="4.4" stroke-linecap="round" stroke-linejoin="round"/>
<path d="M431.7,60.2 L437.9,72.2" fill="none" stroke-width="4.4" stroke-linecap="round" stroke-linejoin="round"/>
<path d="M427,87.7 L440,82" fill="none" stroke-width="4.4" stroke-linecap="round" stroke-linejoin="round"/>
<path d="M404.2,98.6 L416.6,92.9" fill="none" stroke-width="4.4" stroke-linecap="round" stroke-linejoin="round"/>
<path d="M380.8,109.5 L393.3,103.8" fill="none" stroke-width="4.4" stroke-linecap="round" stroke-linejoin="round"/>
<path d="M358,120.4 L370.5,114.7" fill="none" stroke-width="4.4" stroke-linecap="round" stroke-linejoin="round"/>
<path d="M335.2,129.7 L347.6,124.3" fill="none" stroke-width="4.4" stroke-linecap="round" stroke-linejoin="round"/>
<path d="M311.7,142.1 L325,135.8" fill="none" stroke-width="4.4" stroke-linecap="round" stroke-linejoin="round"/>
<path d="M288.5,152.5 L302.1,146.7" fill="none" stroke-width="4.4" stroke-linecap="round" stroke-linejoin="round"/>
<path d="M187.8,161.3 L195,173.3" fill="none" stroke-width="4.4" stroke-linecap="round" stroke-linejoin="round"/>
<path d="M273.75,139.2 L275.8,144.2 L281.7,146.25" fill="none" stroke-width="4.4" stroke-linecap="round" stroke-linejoin="round"/>
<path d="M270,150 L281.7,146.25" fill="none" stroke-width="4.4" stroke-linecap="round" stroke-linejoin="round"/>
<path d="M1000.1,249.6 A56.6,56.6 0 1 1 1049.75,250.1" stroke-width="4.8" fill="none" />
<path d="M1002.5,239.3 Q1025.4,250 1048.3,239.3" stroke-width="1.8" fill="none" />
<circle cx="1025.5" cy="198" r="43.4" stroke-width="3.2" fill="none"/>
<path d="M1000.1,236 L1000.1,490 A24.8,23.3 0 0 0 1049.75,490 L1049.75,236" stroke-width="4.1" fill="none" />
<path d="M1018.9,242 L1018.9,411.2 A6.1,6.1 0 0 0 1031.1,411.2 L1031.1,242" stroke-width="3.3" fill="none" />
<path d="M852.90,333.50 L854.00,328.60 L861.60,323.90" fill="none" stroke-width="4.2" stroke-linecap="round" stroke-linejoin="round"/>
<path d="M1198.00,333.50 L1196.90,328.60 L1189.30,323.90" fill="none" stroke-width="4.2" stroke-linecap="round" stroke-linejoin="round"/>
<path d="M870.60,315.90 L880.40,307.84" fill="none" stroke-width="4.2" stroke-linecap="round" stroke-linejoin="round"/>
<path d="M1180.30,315.90 L1170.50,307.84" fill="none" stroke-width="4.2" stroke-linecap="round" stroke-linejoin="round"/>
<path d="M890.29,299.71 L900.09,291.64" fill="none" stroke-width="4.2" stroke-linecap="round" stroke-linejoin="round"/>
<path d="M1160.61,299.71 L1150.81,291.64" fill="none" stroke-width="4.2" stroke-linecap="round" stroke-linejoin="round"/>
<path d="M909.97,283.51 L919.78,275.45" fill="none" stroke-width="4.2" stroke-linecap="round" stroke-linejoin="round"/>
<path d="M1140.93,283.51 L1131.12,275.45" fill="none" stroke-width="4.2" stroke-linecap="round" stroke-linejoin="round"/>
<path d="M929.66,267.32 L939.46,259.26" fill="none" stroke-width="4.2" stroke-linecap="round" stroke-linejoin="round"/>
<path d="M1121.24,267.32 L1111.44,259.26" fill="none" stroke-width="4.2" stroke-linecap="round" stroke-linejoin="round"/>
<path d="M949.34,251.13 L959.15,243.07" fill="none" stroke-width="4.2" stroke-linecap="round" stroke-linejoin="round"/>
<path d="M1101.56,251.13 L1091.75,243.07" fill="none" stroke-width="4.2" stroke-linecap="round" stroke-linejoin="round"/>
<path d="M969.03,234.94 L974.97,230.05" fill="none" stroke-width="4.2" stroke-linecap="round" stroke-linejoin="round"/>
<path d="M1081.87,234.94 L1075.93,230.05" fill="none" stroke-width="4.2" stroke-linecap="round" stroke-linejoin="round"/>
<path d="M860.50,341.50 L863.00,340.10 L870.90,334.60" fill="none" stroke-width="4.2" stroke-linecap="round" stroke-linejoin="round"/>
<path d="M1190.40,341.50 L1187.90,340.10 L1180.00,334.60" fill="none" stroke-width="4.2" stroke-linecap="round" stroke-linejoin="round"/>
<path d="M880.60,327.00 L890.40,318.94" fill="none" stroke-width="4.2" stroke-linecap="round" stroke-linejoin="round"/>
<path d="M1170.30,327.00 L1160.50,318.94" fill="none" stroke-width="4.2" stroke-linecap="round" stroke-linejoin="round"/>
<path d="M900.29,310.81 L910.09,302.74" fill="none" stroke-width="4.2" stroke-linecap="round" stroke-linejoin="round"/>
<path d="M1150.61,310.81 L1140.81,302.74" fill="none" stroke-width="4.2" stroke-linecap="round" stroke-linejoin="round"/>
<path d="M919.97,294.62 L929.78,286.55" fill="none" stroke-width="4.2" stroke-linecap="round" stroke-linejoin="round"/>
<path d="M1130.93,294.62 L1121.12,286.55" fill="none" stroke-width="4.2" stroke-linecap="round" stroke-linejoin="round"/>
<path d="M939.66,278.42 L949.46,270.36" fill="none" stroke-width="4.2" stroke-linecap="round" stroke-linejoin="round"/>
<path d="M1111.24,278.42 L1101.44,270.36" fill="none" stroke-width="4.2" stroke-linecap="round" stroke-linejoin="round"/>
<path d="M959.34,262.23 L969.15,254.17" fill="none" stroke-width="4.2" stroke-linecap="round" stroke-linejoin="round"/>
<path d="M1091.56,262.23 L1081.75,254.17" fill="none" stroke-width="4.2" stroke-linecap="round" stroke-linejoin="round"/>
<path d="M979.03,246.04 L985.05,241.08" fill="none" stroke-width="4.2" stroke-linecap="round" stroke-linejoin="round"/>
<path d="M1071.87,246.04 L1065.85,241.08" fill="none" stroke-width="4.2" stroke-linecap="round" stroke-linejoin="round"/>
<line x1="855.6" y1="343" x2="855.6" y2="572.5" stroke-width="2.15" stroke-linecap="butt"/>
<line x1="1198" y1="343" x2="1198" y2="572.5" stroke-width="2.15" stroke-linecap="butt"/>
<line x1="1025.8" y1="513" x2="1025.8" y2="572" stroke-width="2.15" stroke-linecap="butt"/>
<line x1="998.4" y1="497" x2="998.4" y2="632" stroke-width="2.15" stroke-linecap="butt"/>
<line x1="1051" y1="497" x2="1051" y2="632" stroke-width="2.15" stroke-linecap="butt"/>
<line x1="876" y1="554.3" x2="911.4" y2="554.3" stroke-width="2.15" stroke-linecap="butt"/>
<polygon points="855.6,554.3 875.9,542.2 875.9,566.4" stroke="none" fill="#1e1e1e"/>
<line x1="968.4" y1="554.3" x2="1004" y2="554.3" stroke-width="2.15" stroke-linecap="butt"/>
<polygon points="1025.4,554.3 1005.1,566.4 1005.1,542.2" stroke="none" fill="#1e1e1e"/>
<line x1="1048" y1="554.3" x2="1078.5" y2="554.3" stroke-width="2.15" stroke-linecap="butt"/>
<polygon points="1026.6,554.3 1046.9,542.2 1046.9,566.4" stroke="none" fill="#1e1e1e"/>
<line x1="1141.5" y1="554.3" x2="1177" y2="554.3" stroke-width="2.15" stroke-linecap="butt"/>
<polygon points="1198.0,554.3 1177.7,566.4 1177.7,542.2" stroke="none" fill="#1e1e1e"/>
<line x1="953.4" y1="614" x2="979" y2="614" stroke-width="2.15" stroke-linecap="butt"/>
<polygon points="998.4,614.0 978.1,626.1 978.1,601.9" stroke="none" fill="#1e1e1e"/>
<line x1="1072" y1="614" x2="1098" y2="614" stroke-width="2.15" stroke-linecap="butt"/>
<polygon points="1051.0,614.0 1071.3,601.9 1071.3,626.1" stroke="none" fill="#1e1e1e"/>
</svg></body></html>
